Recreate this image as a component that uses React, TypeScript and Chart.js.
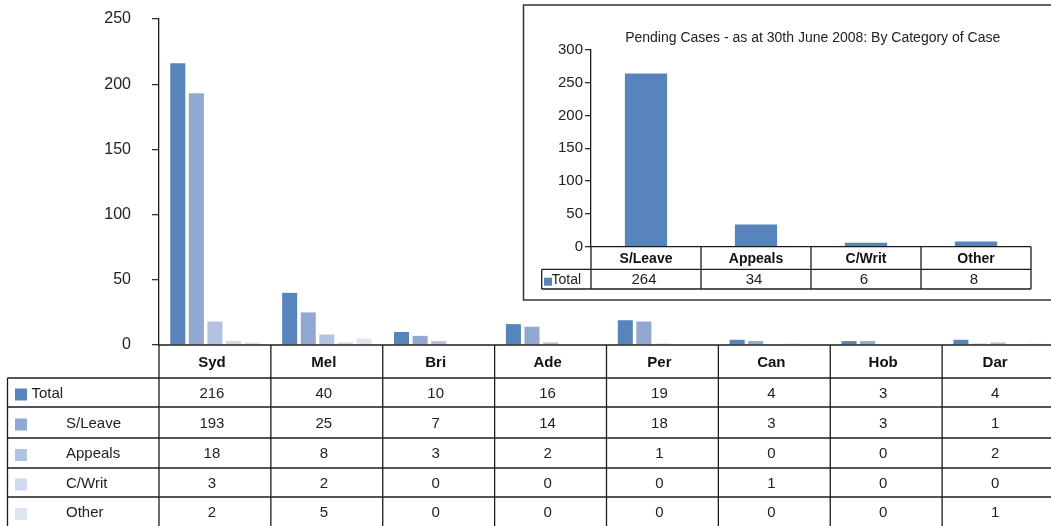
import React, { useEffect, useRef } from 'react';
import { Chart, registerables } from 'chart.js';

Chart.register(...registerables);

// Pending cases by registry
const cities = ['Syd', 'Mel', 'Bri', 'Ade', 'Per', 'Can', 'Hob', 'Dar'];
const totalByCity = [216, 40, 10, 16, 19, 4, 3, 4];
const sLeaveByCity = [193, 25, 7, 14, 18, 3, 3, 1];
const appealsByCity = [18, 8, 3, 2, 1, 0, 0, 2];
const cWritByCity = [3, 2, 0, 0, 0, 1, 0, 0];
const otherByCity = [2, 5, 0, 0, 0, 0, 0, 1];
const seriesNames = ['Total', 'S/Leave', 'Appeals', 'C/Writ', 'Other'];
const mainTickValues = [0, 50, 100, 150, 200, 250];

// Pending cases by category (inset)
const caseCategories = ['S/Leave', 'Appeals', 'C/Writ', 'Other'];
const pendingTotals = [264, 34, 6, 8];
const insetTickValues = [0, 50, 100, 150, 200, 250, 300];
const insetTitle = 'Pending Cases - as at 30th June 2008: By Category of Case';

const seriesValues = [totalByCity, sLeaveByCity, appealsByCity, cWritByCity, otherByCity];
const seriesColors = ['#5884bc', '#91a8d2', '#b4c2e1', '#d0d9ed', '#dfe5f2'];

const FONT = '"Liberation Sans", Arial, Helvetica, sans-serif';
const LINE = '#1c1c1c';

// main canvas geometry
const MAIN_W = 1060;
const MAIN_H = 526;
const PLOT_TOP = 19;
const PLOT_BOTTOM = 345;
const PLOT_LEFT = 159;
const PLOT_RIGHT = 1054;
const TABLE_LEFT = 7.5;
const ROW_EDGES = [345, 378, 407, 438, 468, 497, 527];

// inset canvas geometry (local coordinates)
const INSET_X = 522;
const INSET_Y = 4;
const INSET_W = 529;
const INSET_H = 298;
const IN_LEFT = 69;
const IN_TOP = 46;
const IN_BOTTOM = 242.7;
const IN_RIGHT = 509;
const IN_ROWS = [242.7, 265.3, 285];
const IN_ROWHEAD_LEFT = 19.7;

function hline(ctx: CanvasRenderingContext2D, x1: number, x2: number, y: number) {
  ctx.beginPath();
  ctx.moveTo(x1, y);
  ctx.lineTo(x2, y);
  ctx.stroke();
}
function vline(ctx: CanvasRenderingContext2D, x: number, y1: number, y2: number) {
  ctx.beginPath();
  ctx.moveTo(x, y1);
  ctx.lineTo(x, y2);
  ctx.stroke();
}

const mainTablePlugin = {
  id: 'mainTable',
  afterDraw(chart: any) {
    const ctx: CanvasRenderingContext2D = chart.ctx;
    const { left, right, bottom } = chart.chartArea;
    const xScale = chart.scales.x;
    const colW = (right - left) / cities.length;
    ctx.save();
    ctx.strokeStyle = LINE;
    ctx.lineWidth = 1.3;
    // category axis line
    hline(ctx, left, MAIN_W, bottom);
    // table row lines
    for (let r = 1; r < ROW_EDGES.length; r++) {
      hline(ctx, TABLE_LEFT, MAIN_W, ROW_EDGES[r]);
    }
    // left edge of row headers
    vline(ctx, TABLE_LEFT, ROW_EDGES[1], ROW_EDGES[ROW_EDGES.length - 1]);
    // column separators
    for (let c = 0; c <= cities.length; c++) {
      vline(ctx, left + c * colW, bottom, ROW_EDGES[ROW_EDGES.length - 1]);
    }
    ctx.textBaseline = 'middle';
    ctx.textAlign = 'center';
    ctx.fillStyle = '#111';
    // header row
    ctx.font = `bold 15px ${FONT}`;
    cities.forEach((city, i) => {
      const cx = xScale.getPixelForValue(i);
      ctx.fillText(city, cx - 3, (ROW_EDGES[0] + ROW_EDGES[1]) / 2 + 1);
    });
    // values
    ctx.font = `15px ${FONT}`;
    ctx.fillStyle = '#222';
    seriesValues.forEach((vals, s) => {
      const cy = (ROW_EDGES[s + 1] + ROW_EDGES[s + 2]) / 2 + 1;
      vals.forEach((v, i) => {
        const cx = xScale.getPixelForValue(i);
        ctx.fillText(String(v), cx - 3, cy);
      });
    });
    // row headers with colour keys
    ctx.textAlign = 'left';
    seriesNames.forEach((name, s) => {
      const cy = (ROW_EDGES[s + 1] + ROW_EDGES[s + 2]) / 2;
      ctx.fillStyle = seriesColors[s];
      ctx.fillRect(15, cy - 4, 12, 12);
      ctx.fillStyle = '#222';
      ctx.fillText(name, s === 0 ? 31.5 : 66, cy + 1);
    });
    ctx.restore();
  },
};

const insetPlugin = {
  id: 'insetFrame',
  beforeDraw(chart: any) {
    const ctx: CanvasRenderingContext2D = chart.ctx;
    ctx.save();
    ctx.fillStyle = '#fff';
    ctx.fillRect(0, 0, chart.width, chart.height);
    ctx.strokeStyle = '#333';
    ctx.lineWidth = 1.5;
    ctx.strokeRect(1.5, 1, chart.width + 10, INSET_H - 3);
    ctx.restore();
  },
  afterDraw(chart: any) {
    const ctx: CanvasRenderingContext2D = chart.ctx;
    const { left, right, bottom } = chart.chartArea;
    const xScale = chart.scales.x;
    const colW = (right - left) / caseCategories.length;
    ctx.save();
    // title
    ctx.fillStyle = '#222';
    ctx.font = `14px ${FONT}`;
    ctx.textAlign = 'center';
    ctx.textBaseline = 'middle';
    ctx.fillText(insetTitle, 290.7, 34);
    ctx.strokeStyle = LINE;
    ctx.lineWidth = 1.3;
    hline(ctx, left, right, bottom);
    hline(ctx, IN_ROWHEAD_LEFT, right, IN_ROWS[1]);
    hline(ctx, IN_ROWHEAD_LEFT, right, IN_ROWS[2]);
    vline(ctx, IN_ROWHEAD_LEFT, IN_ROWS[1], IN_ROWS[2]);
    for (let c = 0; c <= caseCategories.length; c++) {
      vline(ctx, left + c * colW, bottom, IN_ROWS[2]);
    }
    ctx.fillStyle = '#111';
    ctx.font = `bold 14px ${FONT}`;
    caseCategories.forEach((cat, i) => {
      ctx.fillText(cat, xScale.getPixelForValue(i), (IN_ROWS[0] + IN_ROWS[1]) / 2 + 1);
    });
    ctx.font = `15px ${FONT}`;
    ctx.fillStyle = '#222';
    pendingTotals.forEach((v, i) => {
      ctx.fillText(String(v), xScale.getPixelForValue(i) - 2, (IN_ROWS[1] + IN_ROWS[2]) / 2 + 1);
    });
    ctx.textAlign = 'left';
    ctx.fillStyle = seriesColors[0];
    ctx.fillRect(22, 273.7, 8, 8);
    ctx.fillStyle = '#222';
    ctx.font = `14px ${FONT}`;
    ctx.fillText('Total', 29.5, (IN_ROWS[1] + IN_ROWS[2]) / 2 + 1);
    ctx.restore();
  },
};

export default function App() {
  const mainRef = useRef<HTMLCanvasElement>(null);
  const insetRef = useRef<HTMLCanvasElement>(null);

  useEffect(() => {
    if (!mainRef.current || !insetRef.current) return;
    Chart.defaults.font.family = FONT;

    const main = new Chart(mainRef.current, {
      type: 'bar',
      data: {
        labels: cities,
        datasets: seriesNames.map((name, s) => ({
          label: name,
          data: seriesValues[s],
          backgroundColor: seriesColors[s],
          borderWidth: 0,
          categoryPercentage: 0.83,
          barPercentage: 0.81,
        })),
      },
      options: {
        responsive: false,
        animation: false,
        events: [],
        layout: {
          padding: { top: PLOT_TOP, bottom: MAIN_H - PLOT_BOTTOM, left: 0, right: MAIN_W - PLOT_RIGHT },
        },
        plugins: { legend: { display: false }, tooltip: { enabled: false }, title: { display: false } },
        scales: {
          x: { display: false },
          y: {
            min: 0,
            max: 250,
            afterFit: (scale: any) => {
              scale.width = PLOT_LEFT;
              scale.paddingTop = 0;
              scale.paddingBottom = 0;
            },
            afterBuildTicks: (scale: any) => {
              scale.ticks = mainTickValues.map((v) => ({ value: v }));
            },
            ticks: { color: '#222', font: { size: 16, family: FONT }, padding: 21 },
            grid: { drawOnChartArea: false, tickLength: 7, color: '#333', lineWidth: 1.3 },
            border: { color: '#1c1c1c', width: 1.3 },
          },
        },
      },
      plugins: [mainTablePlugin],
    });

    const inset = new Chart(insetRef.current, {
      type: 'bar',
      data: {
        labels: caseCategories,
        datasets: [
          {
            label: 'Total',
            data: pendingTotals,
            backgroundColor: seriesColors[0],
            borderWidth: 0,
            categoryPercentage: 0.8,
            barPercentage: 0.48,
          },
        ],
      },
      options: {
        responsive: false,
        animation: false,
        events: [],
        layout: {
          padding: { top: IN_TOP, bottom: INSET_H - IN_BOTTOM, left: 0, right: INSET_W - IN_RIGHT },
        },
        plugins: { legend: { display: false }, tooltip: { enabled: false }, title: { display: false } },
        scales: {
          x: { display: false },
          y: {
            min: 0,
            max: 300,
            afterFit: (scale: any) => {
              scale.width = IN_LEFT;
              scale.paddingTop = 0;
              scale.paddingBottom = 0;
            },
            afterBuildTicks: (scale: any) => {
              scale.ticks = insetTickValues.map((v) => ({ value: v }));
            },
            ticks: { color: '#222', font: { size: 15, family: FONT }, padding: 2 },
            grid: { drawOnChartArea: false, tickLength: 6, color: '#333', lineWidth: 1.3 },
            border: { color: '#1c1c1c', width: 1.3 },
          },
        },
      },
      plugins: [insetPlugin],
    });

    return () => {
      main.destroy();
      inset.destroy();
    };
  }, []);

  return (
    <div
      style={{
        position: 'absolute',
        left: 0,
        top: 0,
        width: 1051,
        height: 526,
        overflow: 'hidden',
        background: '#fff',
      }}
    >
      <canvas
        ref={mainRef}
        width={MAIN_W}
        height={MAIN_H}
        style={{ position: 'absolute', left: 0, top: 0, width: MAIN_W, height: MAIN_H }}
      />
      <canvas
        ref={insetRef}
        width={INSET_W}
        height={INSET_H}
        style={{ position: 'absolute', left: INSET_X, top: INSET_Y, width: INSET_W, height: INSET_H }}
      />
    </div>
  );
}
